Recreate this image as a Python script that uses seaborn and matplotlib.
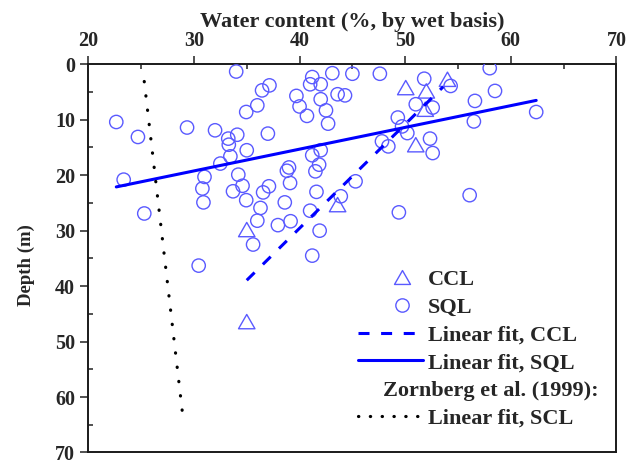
import numpy as np
import matplotlib
matplotlib.use("Agg")
import matplotlib.pyplot as plt
from matplotlib.lines import Line2D
from matplotlib.legend_handler import HandlerLine2D
from matplotlib.path import Path
from matplotlib.ticker import MultipleLocator
import seaborn as sns

# ---- measured profiles: water content (%) vs depth (m) ----
sql_water = [22.65, 24.7, 23.35, 25.3, 29.35, 32.0, 34.0, 34.95, 36.0, 36.45,
             37.15, 37.0, 33.25, 33.3, 34.1, 35.0, 33.45, 32.5, 31.0, 30.8,
             30.9, 34.2, 34.6, 33.7, 34.95, 37.1, 36.55, 36.3, 36.0, 35.6,
             30.45, 37.95, 41.2, 43.1, 45.0, 47.6, 41.0, 42.0, 43.6, 44.3,
             39.7, 42.0, 40.0, 42.5, 40.7, 42.7, 51.8, 54.3, 51.0, 52.6,
             56.6, 56.5, 49.3, 49.7, 50.2, 52.35, 52.6, 47.8, 48.4, 42.0,
             41.2, 38.8, 39.0, 39.1, 41.5, 41.85, 41.6, 45.3, 43.9, 38.6,
             41.0, 49.4, 56.1, 39.15, 41.9, 41.2, 58.0, 58.5, 62.4]
sql_depth = [10.4, 13.1, 20.8, 26.9, 11.4, 11.9, 1.3, 8.6, 7.4, 4.7,
             3.8, 12.5, 13.4, 14.5, 12.7, 15.5, 16.6, 17.9, 20.3, 22.4,
             24.9, 19.9, 21.9, 22.9, 24.5, 22.0, 23.1, 25.9, 28.2, 32.5,
             36.3, 29.0, 2.3, 1.6, 1.7, 1.7, 3.6, 3.6, 5.4, 5.6,
             5.7, 6.3, 7.6, 8.3, 9.3, 10.7, 2.6, 3.9, 7.2, 7.8,
             6.6, 10.3, 9.6, 11.2, 12.4, 13.4, 16.0, 13.9, 14.8, 15.5,
             16.4, 19.2, 18.6, 21.4, 19.3, 18.1, 23.0, 21.1, 23.8, 24.9,
             26.4, 26.7, 23.6, 28.3, 30.0, 34.5, 0.7, 4.8, 8.6]

ccl_water = [50.05, 52.0, 54.0, 51.9, 51.0, 43.6, 35.0, 35.0]
ccl_depth = [4.2, 4.8, 2.7, 8.1, 14.5, 25.3, 29.8, 46.4]

# ---- linear fits: depth = intercept + slope * water content ----
sql_fit_slope, sql_fit_intercept = -0.3925, 31.0
sql_fit_range = [22.65, 62.4]
ccl_fit_slope, ccl_fit_intercept = -1.876, 104.6
ccl_fit_range = [35.0, 53.6]
# Zornberg et al. (1999), SCL: water content = intercept + slope * depth
scl_fit_slope, scl_fit_intercept = 0.0605, 25.11
scl_depth_range = [3.1, 63.3]

x_ticks = [20, 30, 40, 50, 60, 70]
y_ticks = [0, 10, 20, 30, 40, 50, 60, 70]

sns.set_style("ticks")
plt.rcParams["font.family"] = ["Liberation Serif", "DejaVu Serif"]
plt.rcParams["font.weight"] = "bold"
plt.rcParams["axes.labelweight"] = "bold"

MARK = "#5a5aff"
LINE = "#0000ff"
FS_TICK = 14.5
FS_TITLE = 16
FS_LEG = 16
TRI = Path([(0, 0.87), (-1, -0.87), (1, -0.87), (0, 0.87)],
           [Path.MOVETO, Path.LINETO, Path.LINETO, Path.CLOSEPOLY])

fig = plt.figure(figsize=(6.37, 4.62), dpi=100)
ax = fig.add_axes([0.1386, 0.0206, 0.8292, 0.8402])

sns.scatterplot(x=sql_water, y=sql_depth, marker="o", s=92, color=MARK,
                facecolor="none", edgecolor=MARK, linewidth=1.0, ax=ax, zorder=3)
sns.scatterplot(x=ccl_water, y=ccl_depth, marker=TRI, s=140, color=MARK,
                facecolor="none", edgecolor=MARK, linewidth=1.0, ax=ax, zorder=3)
for coll in ax.collections:
    coll.set_facecolor("none")

sql_x = np.array(sql_fit_range)
ccl_x = np.array(ccl_fit_range)
scl_d = np.array(scl_depth_range)
sns.lineplot(x=sql_x, y=sql_fit_intercept + sql_fit_slope * sql_x, color=LINE,
             lw=2.2, ax=ax, zorder=4)
sns.lineplot(x=ccl_x, y=ccl_fit_intercept + ccl_fit_slope * ccl_x, color=LINE,
             lw=2.2, linestyle=(0, (3.6, 3.8)), ax=ax, zorder=4)
sns.lineplot(x=scl_fit_intercept + scl_fit_slope * scl_d, y=scl_d, color="black",
             lw=2.3, linestyle=(0, (0.1, 4.4)), dash_capstyle="round", ax=ax,
             zorder=4)

ax.set_xlim(20, 70)
ax.set_ylim(70, 0)
ax.set_xticks(x_ticks)
ax.set_yticks(y_ticks)
ax.xaxis.set_minor_locator(MultipleLocator(5))
ax.yaxis.set_minor_locator(MultipleLocator(5))
ax.xaxis.tick_top()
ax.xaxis.set_label_position("top")
ax.tick_params(axis="x", which="both", top=True, bottom=False,
               labeltop=True, labelbottom=False)
ax.tick_params(axis="y", which="both", left=True, right=False)
ax.tick_params(which="major", direction="out", length=5.5, width=1.1,
               labelsize=FS_TICK, pad=4, color="#222222")
ax.tick_params(which="minor", direction="in", length=3.5, width=1.1,
               color="#222222")
for lab in ax.get_xticklabels() + ax.get_yticklabels():
    lab.set_fontweight("bold")
for sp in ax.spines.values():
    sp.set_visible(True)
    sp.set_linewidth(1.4)
    sp.set_color("#1a1a1a")

ax.set_xlabel("Water content (%, by wet basis)", fontsize=FS_TITLE,
              fontweight="bold", labelpad=3)
ax.set_ylabel("Depth (m)", fontsize=13.5, fontweight="bold")
ax.yaxis.set_label_coords(-0.100, 0.483)


class OffsetMarkerHandler(HandlerLine2D):
    """Single marker drawn right of the handle centre."""
    def get_xdata(self, legend, xdescent, ydescent, width, height, fontsize):
        xdata = np.array([-xdescent + 0.34 * width, -xdescent + width])
        return xdata, xdata


h_ccl = Line2D([], [], ls="none", marker=TRI, ms=11.5, mfc="none", mec=MARK, mew=1.0)
h_sql = Line2D([], [], ls="none", marker="o", ms=9.6, mfc="none", mec=MARK, mew=1.0)
h_cfit = Line2D([], [], color=LINE, lw=2.2, ls=(0, (3.6, 3.8)))
h_sfit = Line2D([], [], color=LINE, lw=2.2)
h_blank = Line2D([], [], ls="none")
h_zfit = Line2D([], [], color="black", lw=2.3, ls=(0, (0.1, 3.6)),
                dash_capstyle="round")
handles = [h_ccl, h_sql, h_cfit, h_sfit, h_blank, h_zfit]
labels = ["CCL", "SQL", "Linear fit, CCL", "Linear fit, SQL",
          "Zornberg et al. (1999):", "Linear fit, SCL"]
leg = ax.legend(handles, labels, loc="upper left", bbox_to_anchor=(0.511, 0.471),
                frameon=False, prop={"size": FS_LEG, "weight": "bold"},
                handlelength=2.92, handletextpad=0.23, labelspacing=0.32,
                borderpad=0, borderaxespad=0,
                handler_map={h_ccl: OffsetMarkerHandler(),
                             h_sql: OffsetMarkerHandler()})
# the header line starts under the handle column
leg.get_texts()[4].set_x(-45)

fig.savefig("out.png", dpi=100)
